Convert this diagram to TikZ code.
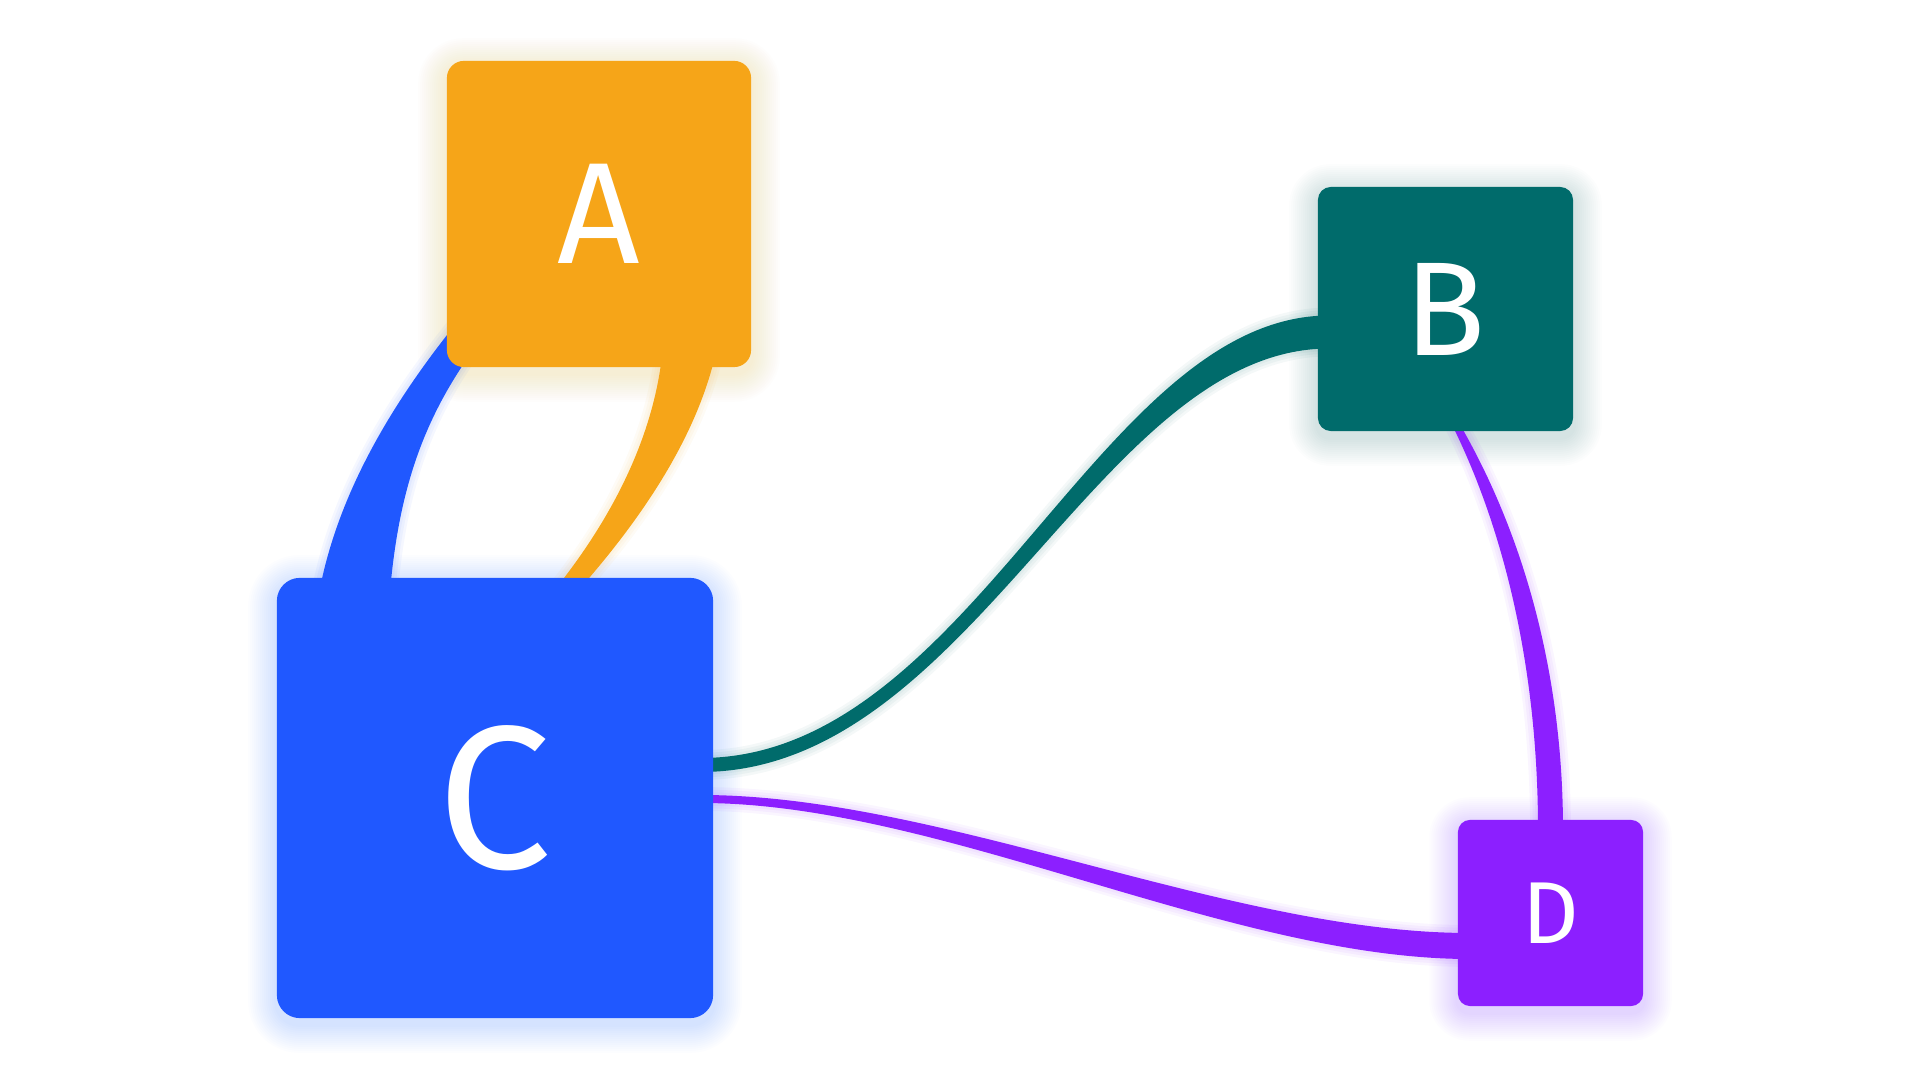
\documentclass[tikz,border=0pt]{standalone}
\usepackage{fontspec}
\setmainfont{Fira Sans}
\usetikzlibrary{calc,backgrounds}

\definecolor{flowA}{HTML}{F6A518}
\definecolor{flowB}{HTML}{006B6B}
\definecolor{flowC}{HTML}{2058FF}
\definecolor{flowD}{HTML}{8C1FFF}

\tikzset{
	box/.style={rectangle, inner sep=0pt, text=white},
	glow/.style={fill=#1, opacity=0.011},
	halo/.style={draw=#1, opacity=0.045, line join=round},
}

% ribbons, thick end at the node that owns the colour
\def\ribbonCA{($(C.north)+(-177,22)$) .. controls +(17,-100) and +(-85,100) .. ($(A.south)+(-124,-67)$)
	-- ($(A.south)+(-119,-27)$) .. controls +(-60,80) and +(7,-120) .. ($(C.north)+(-107,42)$) -- cycle}
\def\ribbonAC{($(A.south)+(65,-37)$) .. controls +(-4,100) and +(80,-90) .. ($(C.north)+(35,42)$)
	-- ($(C.north)+(57,42)$) .. controls +(85,-90) and +(-15,100) .. ($(A.south)+(121,-37)$) -- cycle}
\def\ribbonBC{($(C.east)+(-13,-40)$) .. controls +(270,0) and +(-230,0) .. ($(B.west)+(12,6.5)$)
	-- ($(B.west)+(12,39.5)$) .. controls +(-230,0) and +(270,0) .. ($(C.east)+(-13,-26)$) -- cycle}
\def\ribbonDC{($(C.east)+(-13,-3)$) .. controls +(240,0) and +(-240,0) .. ($(D.west)+(12,20)$)
	-- ($(D.west)+(12,46)$) .. controls +(-240,0) and +(240,0) .. ($(C.east)+(-13,5)$) -- cycle}
\def\ribbonDB{($(B.south)+(4.5,-11)$) .. controls +(58,115) and +(0,-150) .. ($(D.north)+(-12.5,10)$)
	-- ($(D.north)+(12.5,10)$) .. controls +(0,-150) and +(70,118) .. ($(B.south)+(10.5,-14)$) -- cycle}

\begin{document}
\begin{tikzpicture}[x=0.01cm, y=-0.01cm]
\useasboundingbox (0,0) rectangle (1920,1080);

\node[box, fill=flowA, rounded corners=0.17cm, minimum width=3.04cm, minimum height=3.06cm,
	font=\fontsize{41}{41}\selectfont] (A) at (599,214) {A};
\node[box, fill=flowB, rounded corners=0.13cm, minimum width=2.55cm, minimum height=2.44cm,
	font=\fontsize{38}{38}\selectfont] (B) at (1445.5,309) {B};
\node[box, fill=flowC, rounded corners=0.23cm, minimum width=4.36cm, minimum height=4.40cm,
	font=\fontsize{58}{58}\selectfont] (C) at (495,798) {C};
\node[box, fill=flowD, rounded corners=0.12cm, minimum width=1.85cm, minimum height=1.86cm,
	font=\fontsize{25}{25}\selectfont] (D) at (1550.5,913) {D};

\begin{pgfonlayer}{background}
\fill[white] (0,0) rectangle (1920,1080);
% soft glow round the boxes
\foreach \n/\c/\r in {A/flowA/17, B/flowB/13, C/flowC/23, D/flowD/12}
	\foreach \g in {2,4,...,28} {
		\pgfmathsetmacro\rr{(\r+\g)*0.01}
		\fill[glow=\c, rounded corners=\rr cm] ($(\n.south west)+(-\g,\g+6)$) rectangle ($(\n.north east)+(\g,-\g+6)$);
	}
\foreach \w in {1.5,3,4.5} {
	\draw[halo=flowC, line width=\w pt] \ribbonCA;
	\draw[halo=flowA, line width=\w pt] \ribbonAC;
	\draw[halo=flowB, line width=\w pt] \ribbonBC;
	\draw[halo=flowD, line width=\w pt] \ribbonDC;
	\draw[halo=flowD, line width=\w pt] \ribbonDB;
}
\fill[flowC] \ribbonCA;
\fill[flowA] \ribbonAC;
\fill[flowB] \ribbonBC;
\fill[flowD] \ribbonDC;
\fill[flowD] \ribbonDB;
\end{pgfonlayer}
\end{tikzpicture}
\end{document}
